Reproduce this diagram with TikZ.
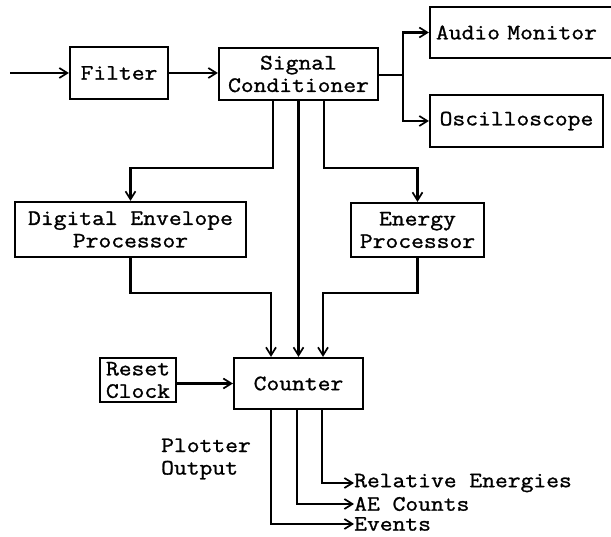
\documentclass[tikz,border=0pt]{standalone}
\usepackage{fontspec}
\setmonofont[FakeStretch=1.13,FakeBold=1.2]{Latin Modern Mono}
\usetikzlibrary{arrows.meta}
\begin{document}
\begin{tikzpicture}[x=1pt,y=-1pt,
  every node/.style={font=\ttfamily\fontsize{22}{22.5}\selectfont},
  blk/.style={draw, line width=2.2pt, inner sep=0pt, align=center},
  lbl/.style={inner sep=0pt, anchor=west},
  wire/.style={line width=2.2pt},
  arr/.style={wire, -{Straight Barb[length=8pt,width=10pt,line width=1.7pt]}}]
\clip (0,0) rectangle (611,537);
\fill[white] (0,0) rectangle (611,537);
% boxes
\node[blk, minimum width=98, minimum height=52] (filter) at (119,73) {Filter};
\node[blk, minimum width=159, minimum height=52] (sc) at (298.5,74) {Signal\\Conditioner};
\node[blk, minimum width=192, minimum height=51, text width=180, align=left] (am) at (526,32.5) {Audio Monitor};
\node[blk, minimum width=173, minimum height=52] (osc) at (516.5,121) {Oscilloscope};
\node[blk, minimum width=231, minimum height=55] (dep) at (130.5,229.5) {Digital Envelope\\Processor};
\node[blk, minimum width=133, minimum height=54] (ep) at (417.5,230) {Energy\\Processor};
\node[blk, minimum width=129, minimum height=51] (counter) at (298.5,383.5) {Counter};
\node[blk, minimum width=76, minimum height=44] (reset) at (138,380) {Reset\\Clock};
\node[align=left, inner sep=0pt] (plot) at (206,459) {Plotter\\Output};
\node[lbl] (rel) at (354,483) {Relative Energies};
\node[lbl] (aec) at (354,504) {AE Counts};
\node[lbl] (evt) at (354,524) {Events};
\coordinate (in) at (10,73);
\coordinate (br) at (403,75);
% connectors
\draw[arr] (in) -- (filter.west);
\draw[arr] (filter.east) -- (filter.east -| sc.west);
\draw[wire] (sc.east |- br) -- (br);
\draw[arr] (br) |- (am.west);
\draw[arr] (br) |- (osc.west);
\draw[arr] ([xshift=-25.5pt]sc.south) -- ++(0,67) -| (dep.north);
\draw[arr] (sc.south) -- (counter.north);
\draw[arr] ([xshift=25.5pt]sc.south) -- ++(0,67) -| (ep.north);
\draw[arr] (dep.south) -- ++(0,35) -| ([xshift=-27.5pt]counter.north);
\draw[arr] (ep.south) -- ++(0,35) -| ([xshift=24.5pt]counter.north);
\draw[arr] (reset.east |- counter.west) -- (counter.west);
\draw[arr] ([xshift=23.5pt]counter.south) |- (rel.west);
\draw[arr] ([xshift=-1.5pt]counter.south) |- (aec.west);
\draw[arr] ([xshift=-27.5pt]counter.south) |- (evt.west);
\end{tikzpicture}
\end{document}
